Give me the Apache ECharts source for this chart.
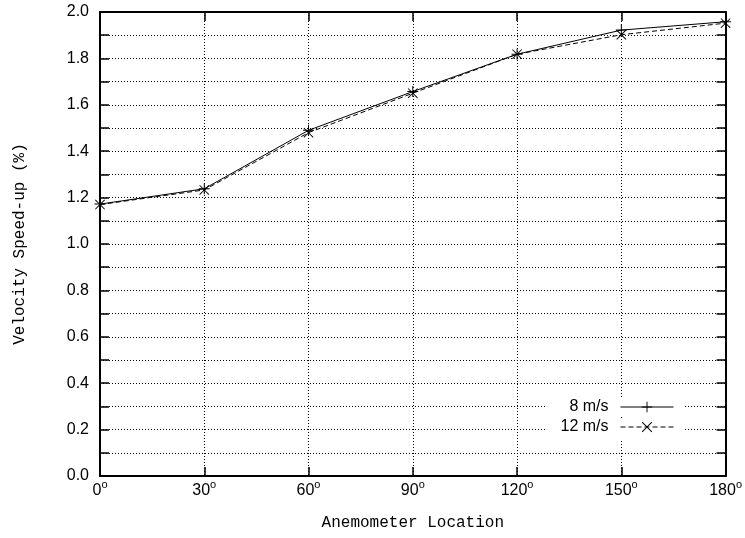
<!DOCTYPE html>
<html>
<head>
<meta charset="utf-8">
<script src="https://cdn.jsdelivr.net/npm/echarts@6/dist/echarts.min.js"></script>
<style>
	html, body { margin: 0; padding: 0; background: #fff; }
	#chart { width: 745px; height: 538px; }
</style>
</head>
<body>
<div id="chart"></div>
<script>
// anemometer location (degrees)
var angles = [0, 30, 60, 90, 120, 150, 180]
// velocity speed-up
var speed8 = [1.172, 1.238, 1.490, 1.657, 1.818, 1.922, 1.958]
var speed12 = [1.170, 1.233, 1.480, 1.650, 1.818, 1.902, 1.952]
var xTicks = [0, 30, 60, 90, 120, 150, 180]
var yTicks = [0, 0.2, 0.4, 0.6, 0.8, 1.0, 1.2, 1.4, 1.6, 1.8, 2.0]

var plusPath = 'path://M-0.09,-1H0.09V-0.09H1V0.09H0.09V1H-0.09V0.09H-1V-0.09H-0.09Z'
var crossPath = 'path://M-1,-0.87L-0.87,-1L0,-0.13L0.87,-1L1,-0.87L0.13,0L1,0.87L0.87,1L0,0.13L-0.87,1L-1,0.87L-0.13,0Z'

var mono = '"Liberation Mono", "DejaVu Sans Mono", monospace'
var sans = '"Liberation Sans", Arial, sans-serif'
var dots = { color: '#000', width: 1, type: [1, 2] }
var frame = { onZero: false, lineStyle: { color: '#000', width: 2 } }
var tick = { inside: true, length: 9, lineStyle: { color: '#000', width: 1.5 } }

function pairs(ys) {
	return angles.map(function (a, i) { return [a, ys[i]] })
}

var chart = echarts.init(document.getElementById('chart'))
var option = {
	animation: false,
	backgroundColor: '#fff',
	grid: { left: 100, right: 18, top: 12, bottom: 62 },
	legend: [
		{
			data: ['8 m/s'],
			right: 60, top: 398, align: 'right',
			itemWidth: 53, itemHeight: 13,
			padding: [1, 11, 0, 24],
			backgroundColor: '#fff',
			lineStyle: { width: 1 },
			textStyle: { fontFamily: sans, fontSize: 16, color: '#000', padding: [0, 7, 0, 0] },
		},
		{
			data: ['12 m/s'],
			right: 60, top: 418, align: 'right',
			itemWidth: 53, itemHeight: 13,
			padding: [1, 11, 4, 15],
			backgroundColor: '#fff',
			lineStyle: { width: 1 },
			textStyle: { fontFamily: sans, fontSize: 16, color: '#000', padding: [0, 7, 0, 0] },
		},
	],
	xAxis: [
		{
			type: 'value', min: 0, max: 180, interval: 30,
			name: 'Anemometer Location', nameLocation: 'middle', nameGap: 39,
			nameTextStyle: { fontFamily: mono, fontSize: 16, color: '#000' },
			axisLine: frame,
			axisTick: tick,
			splitLine: { show: true, lineStyle: dots },
			axisLabel: {
				margin: 3,
				formatter: function (v) { return '{n|' + v + '}{s|o}' },
				rich: {
					n: { fontFamily: sans, fontSize: 16, color: '#000', lineHeight: 24 },
					s: { fontFamily: sans, fontSize: 11, color: '#000', verticalAlign: 'top', lineHeight: 9 },
				},
			},
		},
		{
			type: 'value', position: 'top', min: 0, max: 180, interval: 30,
			axisLine: frame,
			axisTick: tick,
			axisLabel: { show: false },
			splitLine: { show: false },
		},
	],
	yAxis: [
		{
			type: 'value', min: 0, max: 2, interval: 0.1,
			name: 'Velocity Speed-up (%)', nameLocation: 'middle', nameGap: 72,
			nameTextStyle: { fontFamily: mono, fontSize: 16, color: '#000' },
			axisLine: Object.assign({ show: true }, frame),
			axisTick: tick,
			splitLine: { show: true, lineStyle: dots },
			axisLabel: {
				margin: 11, fontFamily: sans, fontSize: 16, color: '#000',
				formatter: function (v) {
					var hit = yTicks.some(function (t) { return Math.abs(t - v) < 1e-6 })
					return hit ? v.toFixed(1) : ''
				},
			},
		},
		{
			type: 'value', position: 'right', min: 0, max: 2, interval: 0.1,
			axisLine: Object.assign({ show: true }, frame),
			axisTick: tick,
			axisLabel: { show: false },
			splitLine: { show: false },
		},
	],
	series: [
		{
			name: '8 m/s', type: 'line', data: pairs(speed8),
			symbol: plusPath, symbolSize: 11,
			itemStyle: { color: '#000' },
			lineStyle: { color: '#000', width: 1 },
			z: 3,
		},
		{
			name: '12 m/s', type: 'line', data: pairs(speed12),
			symbol: crossPath, symbolSize: 10,
			itemStyle: { color: '#000' },
			lineStyle: { color: '#000', width: 1, type: [5, 3] },
			z: 3,
		},
	],
}
chart.setOption(option)
</script>
</body>
</html>
